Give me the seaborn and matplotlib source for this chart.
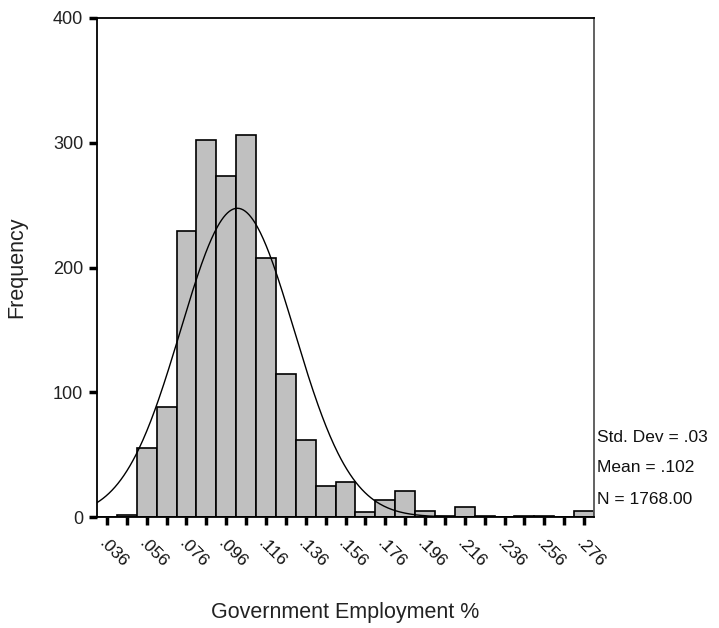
import numpy as np
import pandas as pd
import matplotlib
matplotlib.use("Agg")
import matplotlib.pyplot as plt
import matplotlib.transforms as mtransforms
import seaborn as sns

# ---- data ----
bin_edges = [round(0.031 + 0.01 * i, 3) for i in range(26)]
bin_centers = [0.036, 0.046, 0.056, 0.066, 0.076, 0.086, 0.096, 0.106, 0.116, 0.126,
               0.136, 0.146, 0.156, 0.166, 0.176, 0.186, 0.196, 0.206, 0.216, 0.226,
               0.236, 0.246, 0.256, 0.266, 0.276]
counts = [0, 2, 55, 88, 229, 302, 273, 306, 208, 115,
          62, 25, 28, 4, 14, 21, 5, 1, 8, 1,
          0, 1, 1, 0, 5]
tick_labels = ['.036', '', '.056', '', '.076', '', '.096', '', '.116', '', '.136', '',
               '.156', '', '.176', '', '.196', '', '.216', '', '.236', '', '.256', '', '.276']
y_ticks = [0, 100, 200, 300, 400]
mean_val = 0.1016
sd_val = 0.0285
n_val = 1768
stats_lines = ["Std. Dev = .03", "Mean = .102", "N = 1768.00"]

df = pd.DataFrame({"value": bin_centers, "count": counts})

sns.set_style("white")
plt.rcParams['font.family'] = ['Liberation Sans', 'DejaVu Sans']

W, H = 719, 628
fig = plt.figure(figsize=(W / 100, H / 100), dpi=100)
ax = fig.add_axes([97 / W, 1 - 517 / H, (594 - 97) / W, (517 - 18) / H])

sns.histplot(data=df, x="value", weights="count", bins=bin_edges, color='#c0c0c0',
             edgecolor='black', linewidth=1.2, alpha=1, ax=ax)

xs = np.linspace(bin_edges[0], bin_edges[-1], 500)
binw = bin_edges[1] - bin_edges[0]
ys = n_val * binw / (sd_val * np.sqrt(2 * np.pi)) * np.exp(-0.5 * ((xs - mean_val) / sd_val) ** 2)
ax.plot(xs, ys, color='black', linewidth=1.0)

ax.set_xlim(bin_edges[0], bin_edges[-1])
ax.set_ylim(0, 400)
ax.set_xticks(bin_centers)
ax.set_xticklabels(tick_labels, rotation=-45, ha='left', va='top',
                   rotation_mode='anchor', fontsize=12.5, color='#111111')
offset = mtransforms.ScaledTranslation(5 / 100, 0, fig.dpi_scale_trans)
for lab in ax.get_xticklabels():
    lab.set_transform(lab.get_transform() + offset)
ax.set_yticks(y_ticks)
ax.set_yticklabels([str(v) for v in y_ticks], fontsize=13, color='#222222')
ax.tick_params(axis='x', bottom=True, direction='out', length=6, width=2.5, color='black', pad=7)
ax.tick_params(axis='y', left=True, direction='out', length=6, width=2.5, color='black', pad=4)

for side in ['left', 'bottom', 'top']:
    ax.spines[side].set_color('black')
    ax.spines[side].set_linewidth(1.3)
ax.spines['right'].set_color('#555555')
ax.spines['right'].set_linewidth(1.3)

ax.set_xlabel("Government Employment %", fontsize=15.5, color='#222222')
ax.set_ylabel("Frequency", fontsize=15.5, color='#222222')
ax.xaxis.set_label_coords((345 - 97) / 497, (517 - 602) / 499)
ax.yaxis.set_label_coords((27 - 97) / 497, 0.5)

for i, line in enumerate(stats_lines):
    fig.text(597 / W, 1 - (437 + 31 * i) / H, line, fontsize=12.5,
             ha='left', va='center', color='#111111')

fig.savefig("out.png", dpi=100)
